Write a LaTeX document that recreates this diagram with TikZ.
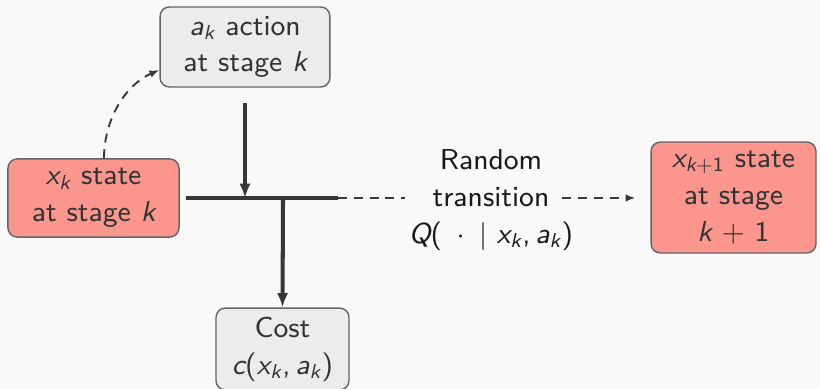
\documentclass[tikz,border=0pt]{standalone}
\usetikzlibrary{arrows.meta}
\definecolor{bgc}{RGB}{249,249,249}
\definecolor{boxgray}{RGB}{236,236,236}
\definecolor{boxred}{RGB}{250,150,142}
\definecolor{edgec}{RGB}{100,100,100}
\definecolor{txtc}{RGB}{51,51,51}
\definecolor{linec}{RGB}{55,55,55}
\newcommand\sv[1]{{\slshape #1}}
\newcommand\ssub[1]{\textsubscript{#1}}
\tikzset{
  box/.style={draw=edgec, line width=0.45pt, rounded corners=3pt, text=txtc, align=center, inner sep=0pt, font=\sffamily\fontsize{9.3}{11.9}\selectfont},
  graybox/.style={box, fill=boxgray},
  redbox/.style={box, fill=boxred},
  thickline/.style={draw=linec, line width=1.3pt},
  thickarrow/.style={thickline, -{Latex[length=4.6pt,width=3.6pt]}},
  dashline/.style={draw=linec, line width=0.6pt, dash pattern=on 2.9pt off 2.2pt},
  dasharrow/.style={dashline, -{Latex[length=3.2pt,width=2.4pt]}},
  plain/.style={text=black!90, align=center, inner sep=0pt, font=\sffamily\fontsize{9.3}{11.9}\selectfont}
}
\begin{document}
\begin{tikzpicture}[x=0.3226pt,y=-0.3226pt]
\fill[bgc] (0,0) rectangle (820,389);
\useasboundingbox (0,0) rectangle (820,389);
\node[graybox, minimum width=54.8pt, minimum height=25.8pt] (ak) at (245,47) {\sv{a}\ssub{\sv{k}} action\\at stage \sv{k}};
\node[redbox, minimum width=55.2pt, minimum height=25.2pt] (xk) at (93.5,198) {\sv{x}\ssub{\sv{k}} state\\at stage \sv{k}};
\node[graybox, minimum width=42.9pt, minimum height=26.4pt] (cost) at (282.5,349) {Cost\\\sv{c}(\sv{x}\ssub{\sv{k}},\,\sv{a}\ssub{\sv{k}})};
\node[redbox, minimum width=53.2pt, minimum height=35.8pt] (next) at (733.5,197.5) {\sv{x}\ssub{\sv{k}+1} state\\at stage\\\sv{k} + 1};
\node[plain, text width=56pt] (rt) at (491,200) {Random\\transition\\\mbox{\sv{Q}(\ \,$\cdot$\ \,$|$\ \sv{x}\ssub{\sv{k}},\,\sv{a}\ssub{\sv{k}})}};
\coordinate (j1) at (245,198);
\coordinate (j2) at (283,198);
\coordinate (jend) at (338,198);
\draw[thickline, shorten <=1.9pt] (xk.east |- jend) -- (jend);
\draw[dashline, shorten >=-0.6pt] (jend) -- (rt.west |- jend);
\draw[thickarrow, shorten <=5pt] (ak.south) -- (j1);
\draw[thickarrow] (j2) -- (cost.north);
\draw[dasharrow, shorten >=4.8pt, shorten <=-5.2pt] (rt.east |- jend) -- (next.west |- jend);
\draw[dasharrow] (xk.north -| 104,0) .. controls (104,120) and (125,85) .. (ak.west |- 0,70);
\end{tikzpicture}
\end{document}
